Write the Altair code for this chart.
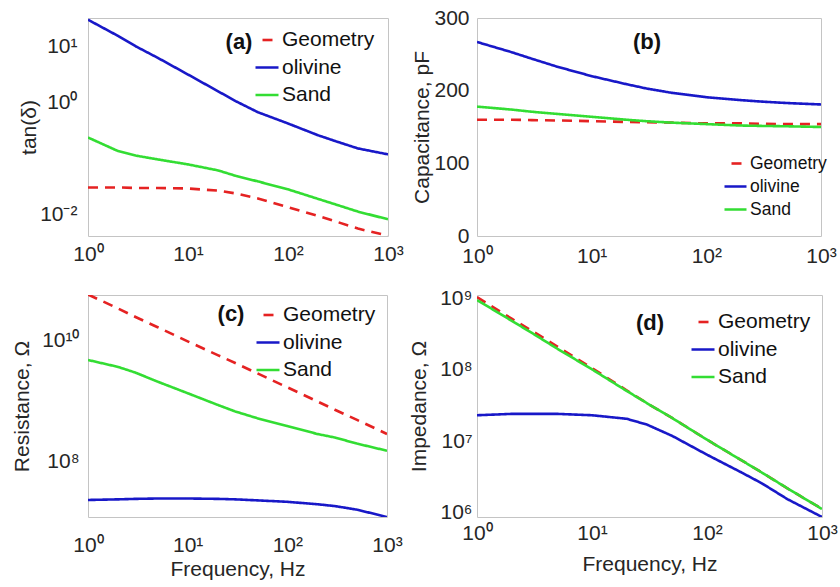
import altair as alt
import pandas as pd

FREQ = [1, 2, 3, 5, 10, 20, 30, 50, 100, 200, 300, 500, 1000]
SERIES = ["Geometry", "olivine", "Sand"]
COLORS = ["#e52222", "#1818c8", "#33dd33"]
DASHES = [[10, 7], [1, 0], [1, 0]]

# (a) loss tangent
TAN_GEOMETRY = [0.0265, 0.0265, 0.0259, 0.0259, 0.0254, 0.0232, 0.0207, 0.0168, 0.0117, 0.00815, 0.00650, 0.00484, 0.00360]
TAN_OLIVINE = [27.2, 13.9, 9.06, 5.61, 2.82, 1.41, 0.938, 0.594, 0.373, 0.229, 0.179, 0.133, 0.104]
TAN_SAND = [0.209, 0.119, 0.0989, 0.0843, 0.0687, 0.0536, 0.0428, 0.0340, 0.0245, 0.0165, 0.0131, 0.00977, 0.00710]

# (b) capacitance, pF
CAP_GEOMETRY = [160, 160, 159.5, 159, 158, 157, 156.5, 156, 155, 155, 154.5, 154, 154]
CAP_OLIVINE = [267, 253, 244, 233, 220, 209, 203, 197, 191, 187, 185, 183, 181]
CAP_SAND = [178, 174, 171, 168, 164, 160, 158, 156, 154, 152, 151.5, 151, 150]

# (c) resistance, ohm
RES_GEOMETRY = [5.1e10, 3.0e10, 2.17e10, 1.47e10, 8.6e9, 5.1e9, 3.78e9, 2.55e9, 1.5e9, 8.8e8, 6.4e8, 4.36e8, 2.55e8]
RES_OLIVINE = [2.08e7, 2.13e7, 2.17e7, 2.2e7, 2.2e7, 2.17e7, 2.13e7, 2.05e7, 1.94e7, 1.77e7, 1.65e7, 1.44e7, 1.09e7]
RES_SAND = [4.24e9, 3.26e9, 2.62e9, 1.86e9, 1.2e9, 7.7e8, 6.0e8, 4.64e8, 3.45e8, 2.55e8, 2.23e8, 1.77e8, 1.35e8]

# (d) impedance, ohm
IMP_GEOMETRY = [1.0e9, 5.0e8, 3.39e8, 2.04e8, 1.02e8, 5.0e7, 3.31e7, 2.04e7, 1.02e7, 5.25e6, 3.55e6, 2.14e6, 1.1e6]
IMP_OLIVINE = [2.24e7, 2.34e7, 2.34e7, 2.34e7, 2.24e7, 2.0e7, 1.66e7, 1.15e7, 6.3e6, 3.55e6, 2.51e6, 1.51e6, 8.5e5]
IMP_SAND = [9.1e8, 4.68e8, 3.16e8, 1.9e8, 9.8e7, 4.9e7, 3.31e7, 2.04e7, 1.02e7, 5.25e6, 3.55e6, 2.14e6, 1.1e6]

X_TICKS = [1, 10, 100, 1000]
A_TICKS = [0.01, 1, 10]
B_TICKS = [0, 100, 200, 300]
C_TICKS = [1e8, 1e10]
D_TICKS = [1e6, 1e7, 1e8, 1e9]

FONT = "Liberation Sans"
TXT = "#262626"

SUP = {-2: "\u207b\u00b2", -1: "\u207b\u00b9", 0: "\u2070", 1: "\u00b9", 2: "\u00b2", 3: "\u00b3",
       6: "\u2076", 7: "\u2077", 8: "\u2078", 9: "\u2079", 10: "\u00b9\u2070"}
E = "round(log(datum.value)/LN10)"
POW = "'10' + (" + " : ".join(f"{E} == {k} ? '{v}'" for k, v in SUP.items()) + " : '')"


def frame(g, o, s):
    rows = []
    for name, vals in zip(SERIES, (g, o, s)):
        for f, v in zip(FREQ, vals):
            rows.append({"freq": f, "value": v, "series": name})
    return pd.DataFrame(rows)


def panel(df, ydom, yticks, ytitle, ylog, label, lxy, leg, w, h, xtitle,
          xlp, ylp, ytp, ext, xtp=4, ylo=3):
    yaxis = dict(values=yticks, title=ytitle, labelFontSize=21, titleFontSize=21,
                 titleFontWeight="normal", labelPadding=ylp, ticks=False, domain=False,
                 grid=False, minExtent=ext, maxExtent=ext, titlePadding=ytp, labelFlush=False,
                 labelFont=FONT, titleFont=FONT, labelColor=TXT, titleColor=TXT)
    if ylog:
        yaxis["labelExpr"] = POW
        yaxis["labelOffset"] = ylo
    xaxis = dict(values=X_TICKS, labelExpr=POW, title=xtitle, labelFontSize=21,
                 titleFontSize=21, titleFontWeight="normal", labelPadding=xlp,
                 ticks=False, domain=False, grid=False, titlePadding=xtp, labelFlush=False,
                 labelFont=FONT, titleFont=FONT, labelColor=TXT, titleColor=TXT)
    yscale = alt.Scale(type="log", domain=ydom, nice=False) if ylog else alt.Scale(domain=ydom, nice=False)
    legend = alt.Legend(orient="none", legendX=leg["x"], legendY=leg["y"], title=None,
                        labelFontSize=leg["fs"], labelFont=FONT, labelColor="#111111",
                        symbolType="stroke", symbolSize=leg["sym"] ** 2,
                        symbolStrokeWidth=2.6, rowPadding=leg["rp"], padding=0,
                        labelOffset=2, symbolDashOffset=10, direction="vertical")
    lines = alt.Chart(df).mark_line(strokeWidth=2.6, clip=True).encode(
        x=alt.X("freq:Q", scale=alt.Scale(type="log", domain=[1, 1000], nice=False), axis=alt.Axis(**xaxis)),
        y=alt.Y("value:Q", scale=yscale, axis=alt.Axis(**yaxis)),
        color=alt.Color("series:N", scale=alt.Scale(domain=SERIES, range=COLORS), legend=legend, sort=SERIES),
        strokeDash=alt.StrokeDash("series:N", scale=alt.Scale(domain=SERIES, range=DASHES), legend=legend, sort=SERIES),
    )
    text = alt.Chart(pd.DataFrame({"t": [label]})).mark_text(
        font=FONT, fontSize=22, fontWeight="bold", color="#111111", align="center", baseline="middle"
    ).encode(text="t:N", x=alt.value(lxy[0]), y=alt.value(lxy[1]))
    return alt.layer(lines, text).properties(width=w, height=h)


pa = panel(frame(TAN_GEOMETRY, TAN_OLIVINE, TAN_SAND), [0.00356, 29.2], A_TICKS, "tan(\u03b4)", True,
           "(a)", (151, 24), dict(x=166, y=9, fs=21, sym=23, rp=4.5), 300, 218, None,
           xlp=7, ylp=11, ytp=5, ext=44)
pb = panel(frame(CAP_GEOMETRY, CAP_OLIVINE, CAP_SAND), [0, 300], B_TICKS, "Capacitance, pF", False,
           "(b)", (170, 24), dict(x=246, y=133, fs=17.5, sym=22, rp=2), 344, 218, None,
           xlp=9, ylp=8, ytp=5, ext=40)
pc = panel(frame(RES_GEOMETRY, RES_OLIVINE, RES_SAND), [1.09e7, 5.0e10], C_TICKS, "Resistance, \u03a9", True,
           "(c)", (143, 19), dict(x=167, y=7, fs=21, sym=23, rp=4.5), 299, 222, "Frequency, Hz",
           xlp=17, ylp=9, ytp=2, ext=54, xtp=3)
pd_ = panel(frame(IMP_GEOMETRY, IMP_OLIVINE, IMP_SAND), [8.5e5, 1.07e9], D_TICKS, "Impedance, \u03a9", True,
            "(d)", (173, 28), dict(x=213, y=14, fs=21, sym=23, rp=4.5), 345, 222, "Frequency, Hz",
            xlp=5, ylp=5, ytp=3, ext=45, xtp=10, ylo=1)

res = dict(color="independent", strokeDash="independent")
row1 = alt.hconcat(pa, pb, spacing=89, bounds="flush").resolve_scale(
    x="independent", y="independent", **res).resolve_legend(**res)
row2 = alt.hconcat(pc, pd_, spacing=90, bounds="flush").resolve_scale(
    x="independent", y="independent", **res).resolve_legend(**res)
chart = alt.vconcat(row1, row2, spacing=277, bounds="flush").resolve_scale(
    x="independent", y="independent", **res).resolve_legend(**res).configure_view(
    stroke="#c4c4c4", strokeWidth=1).properties(
    padding={"left": 10, "top": 6, "right": 0, "bottom": 0}, background="white")

chart.save("out.html", embed_options={"renderer": "svg", "actions": False})
